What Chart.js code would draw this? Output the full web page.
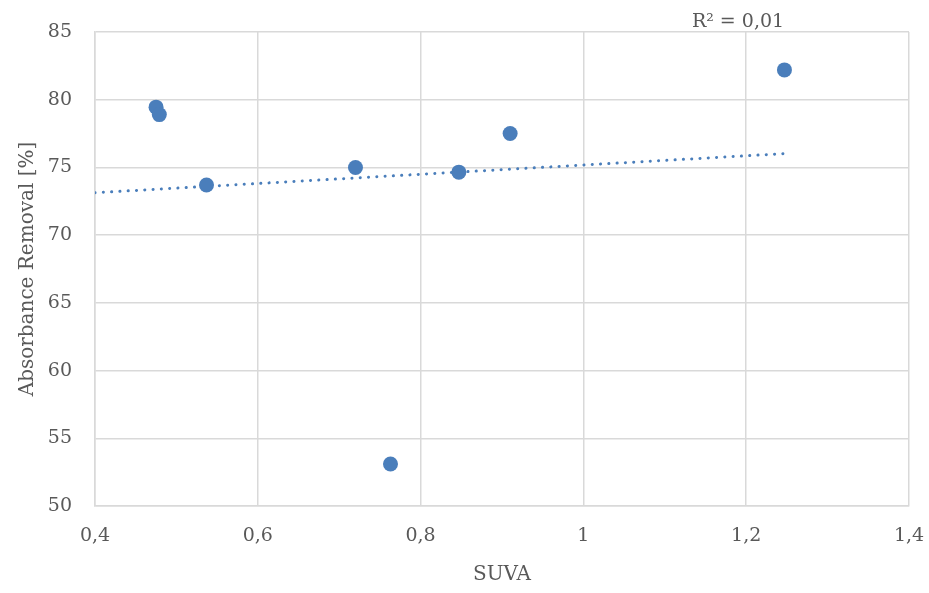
<!DOCTYPE html>
<html>
<head>
<meta charset="utf-8">
<script src="https://cdn.jsdelivr.net/npm/chart.js@4/dist/chart.umd.min.js"></script>
<style>
  html, body { margin: 0; padding: 0; background: #fff; }
  #wrap { width: 929px; height: 593px; }
</style>
</head>
<body>
<div id="wrap"><canvas id="suvaChart"></canvas></div>
<script>
// Data
const suva = [0.475, 0.479, 0.537, 0.720, 0.763, 0.847, 0.910, 1.247];
const removal = [79.45, 78.9, 73.7, 75.0, 53.1, 74.65, 77.5, 82.2];
// Linear trendline end points
const trendX = [0.4, 1.247];
const trendY = [73.13, 76.02];
const r2Label = "R\u00B2 = 0,01";

const textColor = "#595959";
const gridColor = "#d9d9d9";
const blue = "#4a7ebb";
const fontFamily = "'DejaVu Serif', serif";

function commaTick(v) {
    return String(Number(v.toFixed(1))).replace(".", ",");
}

// Draws the R² label above the plot area
const r2Plugin = {
    id: "r2Label",
    afterDraw(chart) {
        const ctx = chart.ctx;
        const area = chart.chartArea;
        ctx.save();
        ctx.font = "19px " + fontFamily;
        ctx.fillStyle = textColor;
        ctx.textAlign = "center";
        ctx.textBaseline = "middle";
        ctx.fillText(r2Label, area.right - 171, area.top - 10);
        ctx.restore();
    }
};

const ctx = document.getElementById("suvaChart").getContext("2d");
new Chart(ctx, {
    type: "scatter",
    data: {
        datasets: [
            {
                label: "Trend",
                data: trendX.map((x, i) => ({ x: x, y: trendY[i] })),
                showLine: true,
                borderColor: blue,
                borderWidth: 3,
                borderDash: [0.1, 8.2],
                borderCapStyle: "round",
                pointRadius: 0,
                fill: false,
                order: 2
            },
            {
                label: "Absorbance Removal",
                data: suva.map((x, i) => ({ x: x, y: removal[i] })),
                backgroundColor: blue,
                borderColor: blue,
                borderWidth: 0,
                pointRadius: 7.5,
                order: 1
            }
        ]
    },
    options: {
        responsive: true,
        maintainAspectRatio: false,
        animation: false,
        layout: { padding: { top: 32, right: 20, bottom: 6, left: 0 } },
        plugins: {
            legend: { display: false },
            tooltip: { enabled: false }
        },
        scales: {
            x: {
                type: "linear",
                min: 0.4,
                max: 1.4,
                ticks: {
                    stepSize: 0.2,
                    color: textColor,
                    font: { family: fontFamily, size: 19 },
                    padding: 19,
                    maxRotation: 0,
                    callback: commaTick
                },
                grid: { color: gridColor, lineWidth: 1.5, drawTicks: false },
                border: { color: gridColor, width: 1.5 },
                title: {
                    display: true,
                    text: "SUVA",
                    color: textColor,
                    font: { family: fontFamily, size: 20 },
                    padding: 0
                },
                afterFit: function (scale) {
                    scale.height = 81;
                    scale.paddingLeft = 0;
                    scale.paddingRight = 0;
                }
            },
            y: {
                type: "linear",
                min: 50,
                max: 85,
                ticks: {
                    stepSize: 5,
                    color: textColor,
                    font: { family: fontFamily, size: 19 },
                    padding: 23
                },
                grid: { color: gridColor, lineWidth: 1.5, drawTicks: false },
                border: { color: gridColor, width: 1.5 },
                title: {
                    display: true,
                    text: "Absorbance Removal [%]",
                    color: textColor,
                    font: { family: fontFamily, size: 20 },
                    padding: { top: 16, bottom: 0 }
                },
                afterFit: function (scale) {
                    scale.width = 95;
                    scale.paddingTop = 0;
                    scale.paddingBottom = 0;
                }
            }
        }
    },
    plugins: [r2Plugin]
});
</script>
</body>
</html>
